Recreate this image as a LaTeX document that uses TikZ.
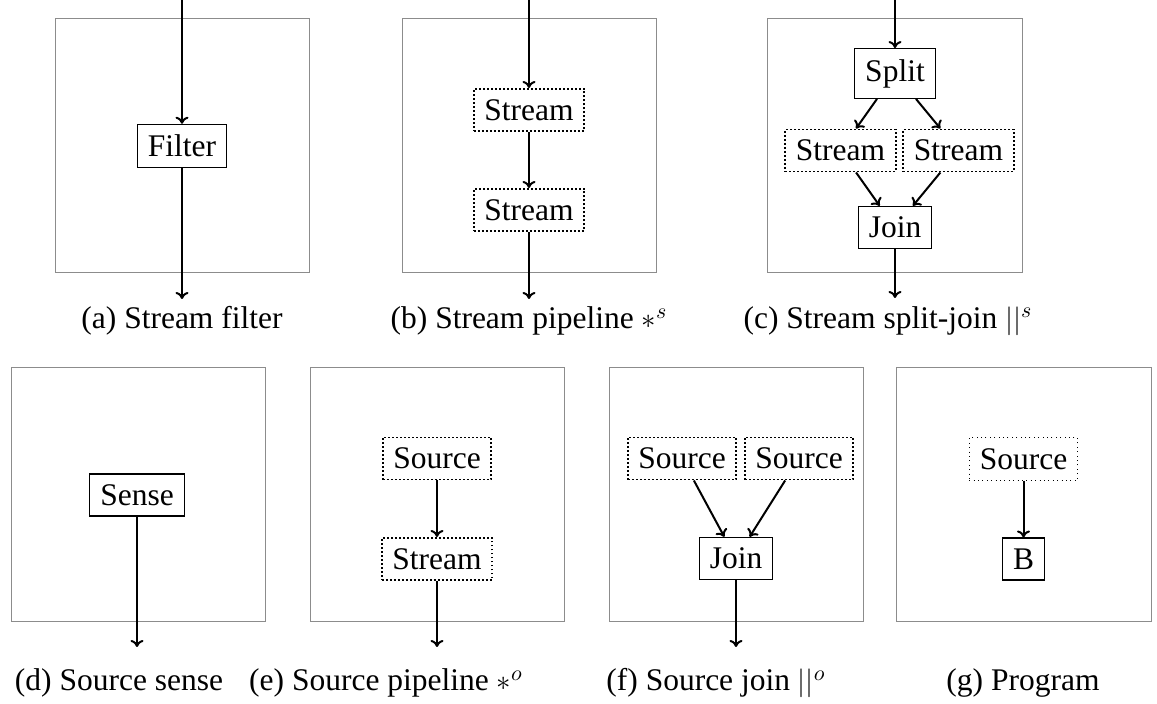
\documentclass[tikz,border=0pt]{standalone}
\usepackage{fontspec}
\setmainfont{Liberation Serif}
\usetikzlibrary{arrows.meta}
\begin{document}
\begin{tikzpicture}[x=0.5pt,y=-0.5pt,
  every node/.style={font=\fontsize{15.75pt}{19pt}\selectfont},
  frame/.style={draw=black!45,line width=0.5pt},
  block/.style={draw,line width=0.65pt,inner sep=5.25pt},
  dotbox/.style={draw,line width=0.9pt,inner sep=5.25pt,dash pattern=on 0.9pt off 1.1pt},
  faintbox/.style={draw,line width=0.45pt,inner sep=5.25pt,dash pattern=on 0.45pt off 1.75pt},
  flow/.style={-{To[length=3.5pt,width=6.5pt]},line width=1pt},
  captext/.style={inner sep=0pt}]
\useasboundingbox (0,0) rectangle (1157,704);

% panel outlines
\draw[frame] (55,19) rectangle (309,273);
\draw[frame] (402,19) rectangle (656,273);
\draw[frame] (767,19) rectangle (1022,273);
\draw[frame] (11,368) rectangle (265,622);
\draw[frame] (310,368) rectangle (564,622);
\draw[frame] (609,368) rectangle (863,622);
\draw[frame] (896,368) rectangle (1151,622);

% (a) stream filter
\node[block] (filter) at (182,146) {Filter};
\coordinate (ain) at (182,0);
\coordinate (aout) at (182,299);
\draw[flow] (ain) -- (filter);
\draw[flow] (filter) -- (aout);
\node[captext] (capa) at (182,321) {(a) Stream filter};

% (b) stream pipeline
\node[dotbox] (bs1) at (529,110) {Stream};
\node[dotbox] (bs2) at (529,210) {Stream};
\coordinate (bin) at (529,0);
\coordinate (bout) at (529,299);
\draw[flow] (bin) -- (bs1);
\draw[flow] (bs1) -- (bs2);
\draw[flow] (bs2) -- (bout);
\node[captext] (capb) at (529,321) {(b) Stream pipeline $\ast^{s}$};

% (c) stream split-join
\node[block] (split) at (895,73.5) {Split};
\node[dotbox] (sl) at (840.5,150.5) {Stream};
\node[dotbox] (sr) at (958.5,150.5) {Stream};
\node[block] (cjoin) at (895,227.5) {Join};
\coordinate (cin) at (895,0);
\coordinate (cout) at (895,298);
\draw[flow] (cin) -- (split);
\draw[flow] (split) -- (sl);
\draw[flow] (split) -- (sr);
\draw[flow] (sl) -- (cjoin);
\draw[flow] (sr) -- (cjoin);
\draw[flow] (cjoin) -- (cout);
\node[captext] (capc) at (888,321) {(c) Stream split-join $||^{s}$};

% (d) source sense
\node[block] (sense) at (137,495) {Sense};
\coordinate (dout) at (137,647);
\draw[flow] (sense) -- (dout);
\node[captext] (capd) at (119,683) {(d) Source sense};

% (e) source pipeline
\node[dotbox] (esrc) at (437,458.5) {Source};
\node[dotbox] (estr) at (437,559) {Stream};
\coordinate (eout) at (437,647);
\draw[flow] (esrc) -- (estr);
\draw[flow] (estr) -- (eout);
\node[captext] (cape) at (386,683) {(e) Source pipeline $\ast^{o}$};

% (f) source join
\node[dotbox] (fsl) at (682,458.5) {Source};
\node[dotbox] (fsr) at (799,458.5) {Source};
\node[block] (fjoin) at (736,558.5) {Join};
\coordinate (fout) at (736,647);
\draw[flow] (fsl) -- (fjoin);
\draw[flow] (fsr) -- (fjoin);
\draw[flow] (fjoin) -- (fout);
\node[captext] (capf) at (716,683) {(f) Source join $||^{o}$};

% (g) program
\node[faintbox] (gsrc) at (1023.5,459) {Source};
\node[block] (gb) at (1023.5,559) {B};
\draw[flow] (gsrc) -- (gb);
\node[captext] (capg) at (1023,683) {(g) Program};
\end{tikzpicture}
\end{document}
